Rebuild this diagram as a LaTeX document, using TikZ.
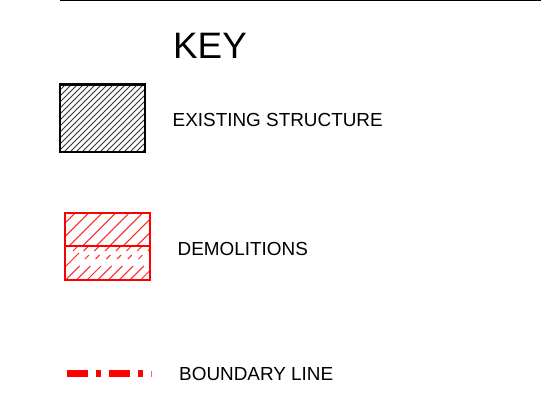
\documentclass[tikz,border=0pt]{standalone}
\usepackage{fontspec}
\setmainfont{Liberation Sans}
\definecolor{keyred}{RGB}{255,0,0}
\tikzset{
  x=1pt,y=-1pt,
  label text/.style={anchor=base west,inner sep=0pt,font=\fontsize{18.9}{20}\selectfont,text=black},
  hatchblack/.style={draw=black!80,line width=1.05pt},
  hatchred/.style={draw=keyred!85,line width=1pt},
  boundary/.style={draw=keyred,line width=6.6pt}
}
\begin{document}
\begin{tikzpicture}
\useasboundingbox (0,0) rectangle (541,405);
\fill[white] (0,0) rectangle (541,405);
\draw[black,line width=1pt] (60,0.3) -- (541,0.3);
\node[anchor=base west,inner sep=0pt,font=\fontsize{36.8}{40}\selectfont] (keytitle) at (173,58.5) {KEY};
% existing structure
\begin{scope}
\clip (60,84.5) rectangle (145,152);
\foreach \i in {0,...,26} \draw[hatchblack] (60+\i*6-68,152) -- (60+\i*6,84);
\end{scope}
\draw[black,line width=2.3pt] (60,84.5) rectangle (145,152);
\node[label text] (existing) at (172.5,126.5) {EXISTING STRUCTURE};
% demolitions
\begin{scope}
\clip (65,212.5) rectangle (150,246);
\foreach \i in {0,...,8} \draw[hatchred] (75.7+\i*13.5-34,246.5) -- (75.7+\i*13.5,212.5);
\end{scope}
\begin{scope}
\clip (65,246) rectangle (150,280);
\draw[hatchred] (66,266) -- (79,253);
\foreach \i in {0,...,8} {
  \draw[hatchred] (64.6+\i*10.7,281) -- (64.6+\i*10.7+15,266);
  \draw[hatchred] (85+\i*10.7,259) -- (85+\i*10.7+4,255);
  \draw[hatchred] (73+\i*10.7,251) -- (73+\i*10.7+5,246);
}
\end{scope}
\draw[keyred,line width=2pt] (65,212.5) rectangle (150,280);
\draw[keyred,line width=2pt] (65,246) -- (150,246);
\node[label text] (demolitions) at (177.5,255) {DEMOLITIONS};
% boundary line
\draw[boundary] (66.5,373.5) -- (87.5,373.5);
\draw[boundary] (96,373.5) -- (100.5,373.5);
\draw[boundary] (108.5,373.5) -- (130,373.5);
\draw[boundary] (138,373.5) -- (143,373.5);
\draw[keyred!60,line width=.6pt] (151.5,370.5) -- (151.5,376.5);
\node[label text] (boundaryline) at (179,380) {BOUNDARY LINE};
\end{tikzpicture}
\end{document}
